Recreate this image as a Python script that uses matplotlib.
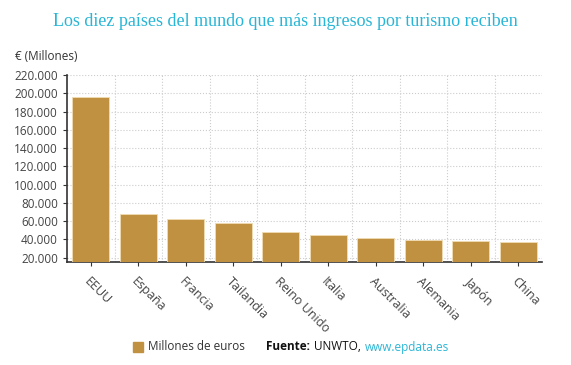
import matplotlib.pyplot as plt
from matplotlib.ticker import FuncFormatter

# Datos (millones de euros)
paises = ["EEUU", "España", "Francia", "Tailandia", "Reino Unido",
          "Italia", "Australia", "Alemania", "Japón", "China"]
ingresos = [196200, 68000, 61800, 58100, 47800, 45300, 41200, 39800, 37900, 37200]
ticks_y = [20000, 40000, 60000, 80000, 100000, 120000, 140000,
           160000, 180000, 200000, 220000]

color_barra = "#bf9140"
color_titulo = "#29b6d6"
color_texto = "#444444"

plt.rcParams['font.family'] = ['Open Sans', 'DejaVu Sans']

fig = plt.figure(figsize=(5.71, 3.65), dpi=100)
ax = fig.add_axes([67 / 571, 1 - 262 / 365, (542 - 67) / 571, (262 - 75) / 365])

x = list(range(len(paises)))
ax.bar(x, ingresos, width=0.78, color=color_barra, edgecolor="#f0dcb4",
       linewidth=0.6, zorder=3, label="Millones de euros")

ax.set_xlim(-0.5, len(paises) - 0.5)
ax.set_ylim(15200, 220000)
ax.set_yticks(ticks_y)
ax.yaxis.set_major_formatter(FuncFormatter(lambda v, p: f"{int(v):,}".replace(",", ".")))
ax.set_xticks(x)
ax.set_xticklabels(paises, rotation=-45, ha="left", rotation_mode="anchor")

# Rejilla punteada
for v in ticks_y:
    ax.axhline(v, color="#cccccc", linestyle=":", linewidth=0.8, zorder=0)
for i in range(1, len(paises)):
    ax.axvline(i - 0.5, color="#cccccc", linestyle=":", linewidth=0.8, zorder=0)

for s in ["top", "right"]:
    ax.spines[s].set_visible(False)
ax.spines["left"].set_color("#333333")
ax.spines["bottom"].set_color("#333333")
ax.spines["left"].set_linewidth(1.2)
ax.spines["bottom"].set_linewidth(1.2)
ax.tick_params(axis="both", colors="#333333", labelcolor=color_texto,
               labelsize=8.5, length=3, width=0.8)
ax.tick_params(axis="x", pad=6, labelsize=9)

fig.text(0.5, 1 - 21 / 365, "Los diez países del mundo que más ingresos por turismo reciben",
         ha="center", va="center", color=color_titulo, fontsize=13,
         family=["Liberation Serif", "DejaVu Serif"])
fig.text(15 / 571, 1 - 57 / 365, "€ (Millones)", ha="left", va="center",
         color="#333333", fontsize=8.5)

# Leyenda y fuente
fig.patches.append(plt.Rectangle((133 / 571, 1 - 352 / 365), 10 / 571, 10 / 365,
                                 transform=fig.transFigure, color=color_barra))
fig.text(148 / 571, 1 - 347 / 365, "Millones de euros", ha="left", va="center",
         color="#333333", fontsize=8.5)

renderer = fig.canvas.get_renderer()
xpos = 266
partes = [("Fuente:", "#111111", "bold", 4), ("UNWTO,", "#111111", "normal", 4),
          ("www.epdata.es", color_titulo, "normal", 0)]
for texto, col, peso, hueco in partes:
    t = fig.text(xpos / 571, 1 - 347 / 365, texto, ha="left", va="center",
                 color=col, fontsize=8.5, fontweight=peso)
    xpos += t.get_window_extent(renderer).width + hueco

fig.savefig("out.png", dpi=100)
